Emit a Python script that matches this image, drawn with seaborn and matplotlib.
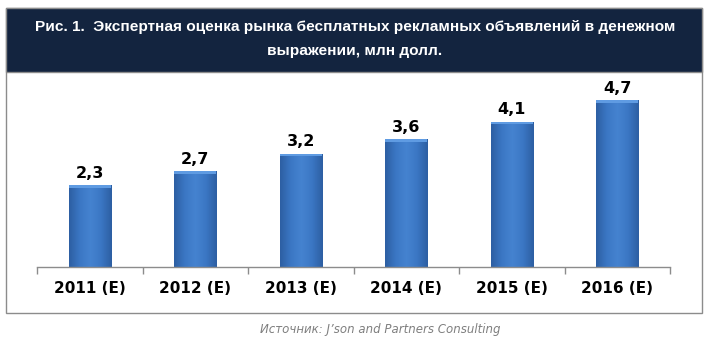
import numpy as np
import pandas as pd
import matplotlib
matplotlib.use("Agg")
import matplotlib.pyplot as plt
import seaborn as sns
from matplotlib.patches import Rectangle
from matplotlib.colors import LinearSegmentedColormap

# --------------------------
# DATA
# --------------------------
years = ["2011 (E)", "2012 (E)", "2013 (E)", "2014 (E)", "2015 (E)", "2016 (E)"]
values = [2.3, 2.7, 3.2, 3.6, 4.1, 4.7]
value_labels = ["2,3", "2,7", "3,2", "3,6", "4,1", "4,7"]
title_text = ("Рис. 1.  Экспертная оценка рынка бесплатных рекламных объявлений в денежном\n"
              "выражении, млн долл.")
source_text = "Источник: J’son and Partners Consulting"

df = pd.DataFrame({"year": years, "value": values})

sns.set_style("white")
plt.rcParams["font.family"] = ["DejaVu Sans"]

W, H = 710, 359
fig = plt.figure(figsize=(W / 100, H / 100), dpi=100)

def fx(px):
    return px / W

def fy(py):
    return 1 - py / H

# --------------------------
# FRAME AND HEADER
# --------------------------
fig.patches.append(Rectangle((fx(6), fy(313)), fx(702 - 6), fy(8) - fy(313),
                             transform=fig.transFigure, facecolor="white",
                             edgecolor="#8c8c8c", lw=1.0, zorder=-2))
fig.patches.append(Rectangle((fx(6), fy(72)), fx(702 - 6), fy(8) - fy(72),
                             transform=fig.transFigure, facecolor="#13243f",
                             edgecolor="#8c8c8c", lw=1.0, zorder=-1))
fig.text(0.5, fy(39), title_text, ha="center", va="center", color="white",
         fontsize=11.1, fontweight="bold", linespacing=1.95,
         family=["Liberation Sans Narrow", "Liberation Sans", "DejaVu Sans"])

# --------------------------
# BARS
# --------------------------
ax = fig.add_axes([fx(37), fy(267), fx(670 - 37), fy(72) - fy(267)])
ax.set_zorder(2)
ax.patch.set_alpha(0)
sns.barplot(data=df, x="year", y="value", color="#3b78c6", width=0.4,
            saturation=1, ax=ax, edgecolor="#2c5a98", linewidth=0.6)

# soft cylinder-like shading inside each bar
cmap = LinearSegmentedColormap.from_list(
    "bar", ["#2d5fa3", "#3b77c4", "#4583d0", "#3b77c4", "#2d5fa3"])
grad = np.linspace(0, 1, 64).reshape(1, -1)
for bar in list(ax.patches):
    x0, w = bar.get_x(), bar.get_width()
    h = bar.get_height()
    im = ax.imshow(grad, extent=[x0, x0 + w, 0, h], aspect="auto", cmap=cmap,
                   zorder=bar.get_zorder() + 0.1)
    im.set_clip_path(bar)
    cap = Rectangle((x0, h - 0.07), w, 0.07, facecolor="#5f9be2",
                    edgecolor="none", zorder=bar.get_zorder() + 0.2)
    ax.add_patch(cap)
    cap.set_clip_path(bar)

for i, (v, lab) in enumerate(zip(values, value_labels)):
    ax.text(i, v + 0.13, lab, ha="center", va="bottom", fontsize=11.5,
            fontweight="bold", color="black")

ax.set_xlim(-0.5, len(years) - 0.5)
ax.set_ylim(0, 5.5)
ax.set_xlabel("")
ax.set_ylabel("")
ax.set_yticks([])
for s in ["top", "right", "left"]:
    ax.spines[s].set_visible(False)
ax.spines["bottom"].set_color("#8c8c8c")
ax.spines["bottom"].set_linewidth(1.0)

ax.set_xticks(range(len(years)))
ax.set_xticklabels(years, fontsize=11, fontweight="bold", color="black")
ax.tick_params(axis="x", which="major", bottom=False, length=0, pad=10)
ax.set_xticks(np.arange(-0.5, len(years), 1.0), minor=True)
ax.tick_params(axis="x", which="minor", bottom=True, length=5,
               color="#8c8c8c", width=1.0, direction="out")

# --------------------------
# SOURCE
# --------------------------
fig.text(fx(380), fy(330), source_text, ha="center", va="center", fontsize=8.5,
         style="italic", color="#7f7f7f")

fig.savefig("out.png", dpi=100)
